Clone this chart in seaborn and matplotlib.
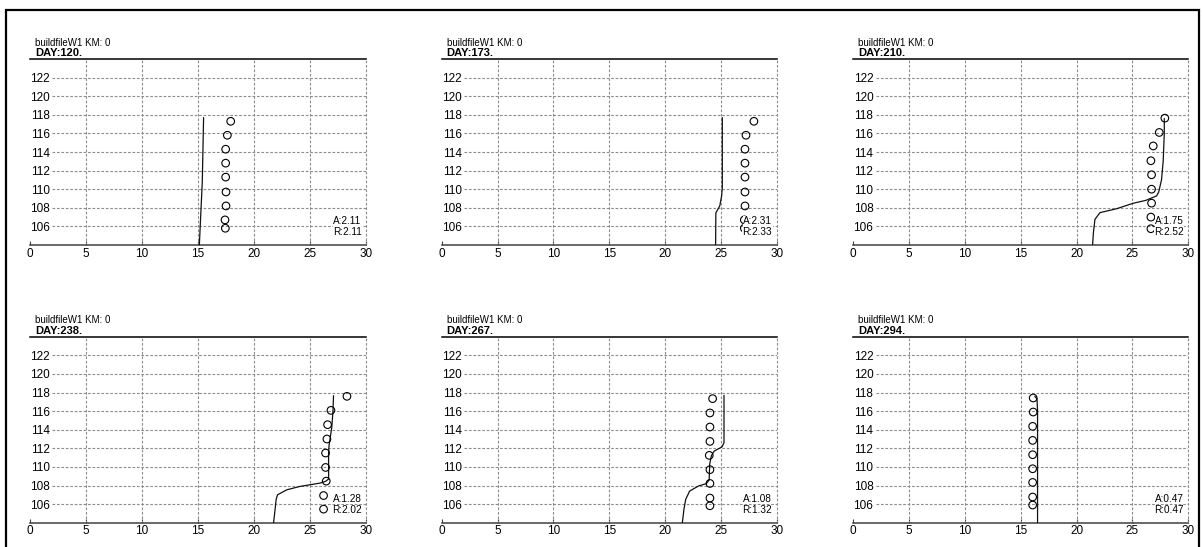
import matplotlib
matplotlib.use("Agg")
import matplotlib.pyplot as plt
from matplotlib.patches import Rectangle
import seaborn as sns

sns.set_theme(style="white")
plt.rcParams["font.family"] = ["Liberation Sans", "DejaVu Sans"]

# ---- data -------------------------------------------------------------
station = "buildfileW1 KM: 0"
days = [120, 173, 210, 238, 267, 294]
score_a = ["2.11", "2.31", "1.75", "1.28", "1.08", "0.47"]
score_r = ["2.11", "2.33", "2.52", "2.02", "1.32", "0.47"]

# simulated profiles (temperature, elevation)
sim_t_120 = [15.12, 15.38, 15.5]
sim_z_120 = [104.0, 110.7, 117.7]
sim_t_173 = [24.53, 24.55, 24.9, 25.07, 25.13, 25.13]
sim_z_173 = [104.0, 107.45, 108.2, 109.3, 110.2, 117.7]
sim_t_210 = [27.85, 27.85, 27.75, 27.6, 27.35, 27.16, 26.2, 25.07, 23.58,
             22.09, 21.64, 21.5, 21.43]
sim_z_210 = [117.6, 116.0, 113.0, 111.0, 109.7, 109.28, 108.8, 108.49, 107.9,
             107.48, 106.76, 105.3, 104.0]
sim_t_238 = [27.1, 27.05, 26.95, 26.7, 26.66, 26.66, 26.4, 25.9, 24.1, 22.94,
             22.1, 21.98, 21.75]
sim_z_238 = [117.66, 116.0, 114.3, 112.3, 111.5, 108.7, 108.45, 108.26, 107.9,
             107.54, 107.0, 106.5, 104.0]
sim_t_267 = [25.28, 25.28, 25.1, 24.4, 24.15, 24.0, 23.95, 23.7, 23.0, 22.2,
             21.85, 21.7, 21.55]
sim_z_267 = [117.7, 112.6, 112.15, 111.7, 111.2, 110.3, 108.6, 108.2, 107.95,
             107.4, 106.5, 105.5, 104.0]
sim_t_294 = [16.25, 16.45, 16.5, 16.5]
sim_z_294 = [117.6, 117.3, 116.0, 104.0]

# observed profiles
obs_t_120 = [17.92, 17.62, 17.47, 17.47, 17.47, 17.5, 17.5, 17.41, 17.44]
obs_z_120 = [117.3, 115.8, 114.3, 112.8, 111.3, 109.7, 108.2, 106.7, 105.8]
obs_t_173 = [27.96, 27.25, 27.16, 27.16, 27.16, 27.16, 27.16, 27.1, 27.1]
obs_z_173 = [117.3, 115.8, 114.3, 112.8, 111.3, 109.7, 108.2, 106.7, 105.8]
obs_t_210 = [27.9, 27.4, 26.86, 26.65, 26.71, 26.71, 26.71, 26.65, 26.65]
obs_z_210 = [117.64, 116.1, 114.65, 113.06, 111.55, 110.0, 108.5, 107.0, 105.75]
obs_t_238 = [28.3, 26.87, 26.57, 26.51, 26.39, 26.39, 26.45, 26.21, 26.21]
obs_z_238 = [117.59, 116.08, 114.54, 113.0, 111.49, 109.94, 108.47, 106.92, 105.46]
obs_t_267 = [24.26, 24.02, 24.02, 24.02, 23.96, 24.02, 24.02, 24.02, 24.02]
obs_z_267 = [117.34, 115.8, 114.29, 112.74, 111.24, 109.7, 108.22, 106.65, 105.82]
obs_t_294 = [16.11, 16.11, 16.06, 16.06, 16.06, 16.06, 16.06, 16.06, 16.06]
obs_z_294 = [117.41, 115.9, 114.36, 112.85, 111.31, 109.8, 108.33, 106.76, 105.9]

sim_t = [sim_t_120, sim_t_173, sim_t_210, sim_t_238, sim_t_267, sim_t_294]
sim_z = [sim_z_120, sim_z_173, sim_z_210, sim_z_238, sim_z_267, sim_z_294]
obs_t = [obs_t_120, obs_t_173, obs_t_210, obs_t_238, obs_t_267, obs_t_294]
obs_z = [obs_z_120, obs_z_173, obs_z_210, obs_z_238, obs_z_267, obs_z_294]

x_ticks = [0, 5, 10, 15, 20, 25, 30]
y_ticks = [106, 108, 110, 112, 114, 116, 118, 120, 122]

# ---- layout (pixels) --------------------------------------------------
W, H = 1202, 547
col_left = [30, 441.7, 853.3]
col_w = [336, 335, 335]
row_top = [59, 336.7]
ax_h = 186
PT = 0.72  # points per pixel at 100 dpi

fig = plt.figure(figsize=(W / 100, H / 100), dpi=100)
fig.patch.set_facecolor("white")

grid_kw = dict(color="#8c8c8c", linewidth=0.8, linestyles=(0, (2.4, 1.6)))

for i, day in enumerate(days):
    r, c = divmod(i, 3)
    ax = fig.add_axes([col_left[c] / W, (H - row_top[r] - ax_h) / H,
                       col_w[c] / W, ax_h / H])
    ax.set_facecolor("white")
    ax.set_xlim(0, 30)
    ax.set_ylim(104, 124)

    # dashed grid: horizontal lines start right of the inner tick labels
    ax.hlines(y_ticks, 2.0, 30, zorder=1, **grid_kw)
    ax.vlines(x_ticks[1:], 104, 124, zorder=1, clip_on=False, **grid_kw)

    sns.lineplot(x=sim_t[i], y=sim_z[i], sort=False, estimator=None,
                 color="#111111", linewidth=0.9, ax=ax, zorder=3)
    sns.scatterplot(x=obs_t[i], y=obs_z[i], marker="o", s=30,
                    facecolor="none", edgecolor="black", linewidth=0.8,
                    ax=ax, zorder=4)

    for sp in ("left", "right"):
        ax.spines[sp].set_visible(False)
    ax.spines["top"].set_color("black")
    ax.spines["top"].set_linewidth(1.1)
    ax.spines["bottom"].set_color("#404040")
    ax.spines["bottom"].set_linewidth(1.1)

    ax.set_xticks(x_ticks)
    ax.set_xticklabels([str(v) for v in x_ticks])
    ax.set_yticks(y_ticks)
    ax.set_yticklabels([str(v) for v in y_ticks])
    ax.tick_params(axis="x", direction="in", length=3, width=0.8,
                   color="#404040", pad=2, labelsize=8.5, labelcolor="black",
                   bottom=True)
    ax.tick_params(axis="y", length=0, pad=-20 * PT, labelsize=8.5,
                   labelcolor="black")
    ax.set_xlabel("")
    ax.set_ylabel("")

    ax.annotate(station, xy=(0, 1), xycoords="axes fraction",
                xytext=(5 * PT, 16.5 * PT), textcoords="offset points",
                ha="left", va="center", fontsize=7, color="black")
    ax.annotate(f"DAY:{day}.", xy=(0, 1), xycoords="axes fraction",
                xytext=(5 * PT, 6 * PT), textcoords="offset points",
                ha="left", va="center", fontsize=8, fontweight="bold",
                color="black")

    box = dict(facecolor="white", edgecolor="none", pad=0.3)
    ax.text(29.6, 106.55, f"A:{score_a[i]}", ha="right", va="center",
            fontsize=7.2, color="black", bbox=box, zorder=6)
    ax.text(29.6, 105.35, f"R:{score_r[i]}", ha="right", va="center",
            fontsize=7.2, color="black", bbox=box, zorder=6)

# page frame around the panels
fig.add_artist(Rectangle((5.5 / W, -0.05), (1199 - 5.5) / W,
                         (H - 9.5) / H + 0.05, fill=False, linewidth=1.6,
                         edgecolor="black", transform=fig.transFigure,
                         clip_on=False))

fig.savefig("out.png", dpi=100, facecolor="white")
